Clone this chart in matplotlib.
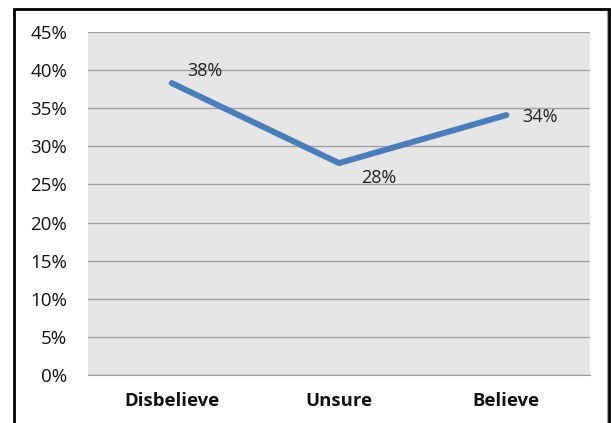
import matplotlib
matplotlib.use("Agg")
import matplotlib.pyplot as plt
from matplotlib.patches import Rectangle

categories = ["Disbelieve", "Unsure", "Believe"]
values = [0.383, 0.278, 0.341]
labels = ["38%", "28%", "34%"]
yticks = [0, 0.05, 0.10, 0.15, 0.20, 0.25, 0.30, 0.35, 0.40, 0.45]
ytick_labels = ["0%", "5%", "10%", "15%", "20%", "25%", "30%", "35%", "40%", "45%"]

plt.rcParams['font.family'] = ['Open Sans', 'DejaVu Sans']

fig = plt.figure(figsize=(6.11, 4.23), dpi=100)
W, H = 611, 423
ax = fig.add_axes([88 / W, 1 - 375 / H, (590 - 88) / W, (375 - 32) / H])
ax.set_facecolor("#e6e6e6")

x = list(range(len(categories)))
ax.plot(x, values, color="#4a7ebb", lw=4.3, solid_capstyle="round", zorder=3)

offsets = [(11, 9), (16, -11), (11.5, -1.5)]
for xi, v, lab, (dx, dy) in zip(x, values, labels, offsets):
    ax.annotate(lab, (xi, v), xytext=(dx, dy), textcoords="offset points",
                fontsize=13, color="#222222", va="center", ha="left")

ax.set_xlim(-0.5, 2.5)
ax.set_ylim(0, 0.45)
ax.set_yticks(yticks)
ax.set_yticklabels(ytick_labels, fontsize=13.5, color="#111111")
ax.set_xticks(x)
ax.set_xticklabels(categories, fontsize=13.3, fontweight="bold", color="#111111")
ax.yaxis.grid(True, color="#a0a0a0", lw=1)
ax.set_axisbelow(True)
for s in ["left", "right", "top"]:
    ax.spines[s].set_visible(False)
ax.spines["bottom"].set_color("#a0a0a0")
ax.tick_params(axis="both", length=0)
ax.tick_params(axis="y", pad=15)
ax.tick_params(axis="x", pad=12)

# figure frame
fig.patches.append(Rectangle((14 / W, -0.1), (609 - 14) / W, (1 - 9 / H) + 0.1,
                             transform=fig.transFigure, fill=False,
                             edgecolor="black", lw=2, clip_on=False))
fig.add_artist(plt.Line2D([607 / W, 607 / W], [0, 1 - 11 / H],
                          transform=fig.transFigure, color="#a0a0a0", lw=0.8))

fig.savefig("out.png", dpi=100)
